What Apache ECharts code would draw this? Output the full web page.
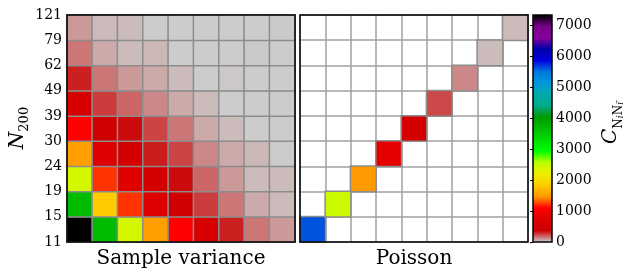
<!DOCTYPE html>
<html>
<head>
<meta charset="utf-8">
<script src="https://cdn.jsdelivr.net/npm/echarts@6/dist/echarts.min.js"></script>
<style>
  html, body { margin: 0; padding: 0; background: #fff; }
  #chart { width: 626px; height: 269px; }
</style>
</head>
<body>
<div id="chart"></div>
<script>
// N_200 bin edges, bottom to top
const binEdges = ['11', '15', '19', '24', '30', '39', '49', '62', '79', '121'];
const bins = ['0', '1', '2', '3', '4', '5', '6', '7', '8'];

// sample variance covariance, one array per bin (row from bottom), column from left
const sv0 = [7320, 3660, 2380, 1510, 1100, 580, 310, 155, 92];
const sv1 = [3660, 1830, 1220, 735, 450, 258, 153, 61, 30];
const sv2 = [2380, 1220, 765, 540, 345, 183, 92, 30, 30];
const sv3 = [1510, 735, 540, 315, 244, 122, 61, 38, 0];
const sv4 = [1100, 450, 345, 244, 153, 61, 30, 0, 0];
const sv5 = [580, 258, 183, 122, 61, 30, 0, 0, 0];
const sv6 = [310, 153, 92, 61, 30, 0, 8, 0, 0];
const sv7 = [155, 61, 30, 38, 0, 0, 0, 5, 0];
const sv8 = [92, 30, 30, 0, 0, 0, 0, 0, 5];
const sampleRows = [sv0, sv1, sv2, sv3, sv4, sv5, sv6, sv7, sv8];

// poisson: diagonal only
const poissonDiag = [5600, 2450, 1470, 820, 540, 235, 122, 30, 30];

const cMax = 7320;
// nipy_spectral reversed
const cmap = ['#cccccc', '#cc0000', '#dd0000', '#ff0000', '#ff9900', '#ffcc00', '#eeee00',
  '#bbff00', '#00ff00', '#00dd00', '#00bb00', '#009900', '#00aa88', '#00aaaa', '#0099dd',
  '#0077dd', '#0000dd', '#0000aa', '#880099', '#770088', '#000000'];

const font = 'DejaVu Serif';

let svData = [];
sampleRows.forEach((row, y) => row.forEach((v, x) => svData.push([x, y, v])));
let poData = poissonDiag.map((v, i) => [i, i, v]);

let myChart = echarts.init(document.getElementById('chart'));

function catAxis(grid, name) {
  return {
    type: 'category', gridIndex: grid, data: bins,
    axisLine: { show: false }, axisTick: { show: false }, axisLabel: { show: false },
    splitLine: { show: true, lineStyle: { color: '#a0a0a0', width: 1.5 } },
    name: name, nameLocation: 'middle', nameGap: 7,
    nameTextStyle: { fontFamily: font, fontSize: 20, color: '#000' }
  };
}
const frame = { show: true, borderColor: '#000', borderWidth: 1.5, backgroundColor: 'rgba(0,0,0,0)', z: 5,
  outerBoundsMode: 'none', containLabel: false };

let option = {
  animation: false,
  grid: [
    Object.assign({ left: 67, top: 15, width: 228, height: 227 }, frame),
    Object.assign({ left: 300, top: 15, width: 228, height: 227 }, frame),
    Object.assign({ left: 533, top: 15, width: 19, height: 227 }, frame)
  ],
  xAxis: [
    catAxis(0, 'Sample variance'),
    catAxis(1, 'Poisson'),
    { type: 'value', gridIndex: 2, show: false }
  ],
  yAxis: [
    Object.assign(catAxis(0, ''), { name: '' }),
    Object.assign(catAxis(1, ''), { name: '' }),
    {
      type: 'value', gridIndex: 0, min: 0, max: 9, interval: 1, position: 'left',
      axisLine: { show: false }, splitLine: { show: false },
      axisTick: { show: true, inside: true, length: 4, lineStyle: { color: '#000', width: 1 } },
      axisLabel: { margin: 5, fontFamily: font, fontSize: 14, color: '#000', formatter: v => binEdges[v] }
    },
    {
      type: 'value', gridIndex: 0, min: 0, max: 9, interval: 1, position: 'right',
      axisLine: { show: false }, splitLine: { show: false }, axisLabel: { show: false },
      axisTick: { show: true, inside: true, length: 4, lineStyle: { color: '#000', width: 1 } }
    },
    {
      type: 'value', gridIndex: 2, min: 0, max: cMax, interval: 1000, position: 'right',
      axisLine: { show: false }, splitLine: { show: false },
      axisTick: { show: true, inside: true, length: 3, lineStyle: { color: '#000', width: 1 } },
      axisLabel: { margin: 4, fontFamily: font, fontSize: 14, color: '#000', showMaxLabel: false,
        formatter: v => String(v) }
    }
  ],
  visualMap: {
    type: 'continuous', min: 0, max: cMax, seriesIndex: [0, 1],
    inRange: { color: cmap }, orient: 'vertical',
    left: 533, top: 15, itemWidth: 19, itemHeight: 227, padding: 0,
    calculable: false, hoverLink: false, z: 1
  },
  series: [
    {
      type: 'heatmap', xAxisIndex: 0, yAxisIndex: 0, data: svData,
      itemStyle: { borderColor: '#8c8c8c', borderWidth: 1.5 },
      emphasis: { disabled: true }
    },
    {
      type: 'heatmap', xAxisIndex: 1, yAxisIndex: 1, data: poData,
      itemStyle: { borderColor: '#8c8c8c', borderWidth: 1.5 },
      emphasis: { disabled: true }
    }
  ],
  graphic: [
    {
      type: 'text', x: 18, y: 128, rotation: Math.PI / 2,
      style: {
        text: '{n|N}{s|200}', align: 'center', verticalAlign: 'middle',
        rich: {
          n: { fontFamily: font, fontStyle: 'italic', fontSize: 20, lineHeight: 26, fill: '#000' },
          s: { fontFamily: font, fontSize: 13, lineHeight: 14, verticalAlign: 'bottom', fill: '#000' }
        }
      }
    },
    {
      type: 'text', x: 611, y: 122, rotation: Math.PI / 2,
      style: {
        text: '{c|C}{s|N}{t|i}{s|N}{t|i′}', align: 'center', verticalAlign: 'middle',
        rich: {
          c: { fontFamily: font, fontStyle: 'italic', fontSize: 20, lineHeight: 28, fill: '#000' },
          s: { fontFamily: font, fontSize: 12, lineHeight: 16, verticalAlign: 'bottom', fill: '#000' },
          t: { fontFamily: font, fontStyle: 'italic', fontSize: 9, lineHeight: 10, verticalAlign: 'bottom', fill: '#000' }
        }
      }
    }
  ]
};
myChart.setOption(option);
</script>
</body>
</html>
